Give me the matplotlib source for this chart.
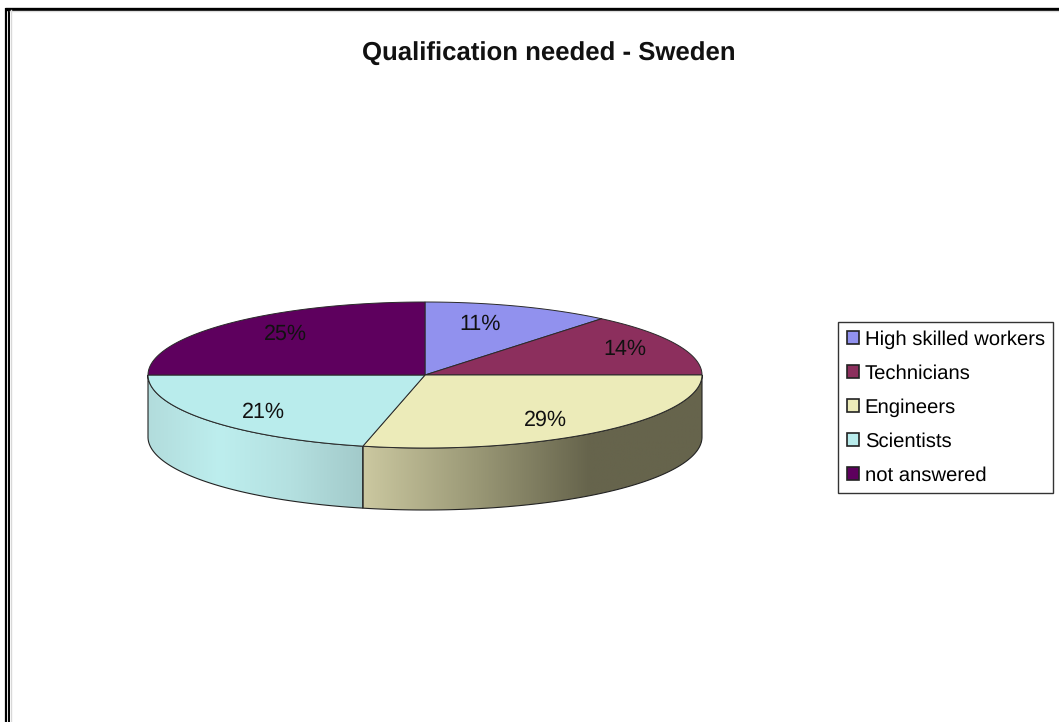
#!/usr/bin/env python3
# -*- coding: utf-8 -*-
"""Qualification needed - Sweden: Excel style 3D pie, drawn by hand in pixel coords."""

import numpy as np
import matplotlib
matplotlib.use("Agg")
import matplotlib.pyplot as plt
from matplotlib.colors import LinearSegmentedColormap
from matplotlib.patches import Patch, Polygon

plt.rcParams["font.family"] = ["Liberation Sans", "DejaVu Sans"]
plt.rcParams["text.hinting"] = "no_hinting"

# ====== data ======
categories = ["High skilled workers", "Technicians", "Engineers", "Scientists", "not answered"]
shares = [11, 14, 28.6, 21.4, 25]
top_colors = ["#9191ee", "#8c2f5d", "#ecebb9", "#b9ecec", "#5e005e"]
# wall shading, left to right, only slices that reach the front
wall_colors = {2: ["#cbc8a0", "#9a9876", "#66644c", "#66644c"],
               3: ["#b2dcdc", "#bdeeee", "#b4e0e0", "#a2caca"]}
# =================

# layout, pixels of the 1059x722 image
W, H = 1059, 722
CX, CY, RX, RY = 425, 375, 277, 73
DEPTH = 62
LABEL_XY = [(480, 324), (625, 349), (545, 420), (263, 412), (285, 334)]


def rim(a0, a1, n=120):
    """points on the top ellipse, angle in degrees clockwise from 12 o'clock"""
    t = np.radians(np.linspace(a0, a1, n))
    return np.column_stack((CX + RX * np.sin(t), CY - RY * np.cos(t)))


fig = plt.figure(figsize=(W / 100, H / 100), dpi=100)
ax = fig.add_axes([0, 0, 1, 1])
ax.set_xlim(0, W)
ax.set_ylim(H, 0)
ax.axis("off")

# double frame on top / left only
ax.plot([6, 6], [H, 8], color="black", lw=1.6, solid_capstyle="butt")
ax.plot([5, W], [8.5, 8.5], color="black", lw=2.4, solid_capstyle="butt")
ax.plot([9, 9], [H, 9], color="black", lw=1.4, solid_capstyle="butt")
ax.plot([10.5, 10.5], [H, 10], color="#d8d8d8", lw=1.0)
ax.plot([10, W], [10.8, 10.8], color="#dddddd", lw=1.0)

edges = np.concatenate(([0], np.cumsum(shares))) / sum(shares) * 360.0

# -------- side walls --------
for i in range(len(shares)):
    a0, a1 = max(edges[i], 90), min(edges[i + 1], 270)
    if a1 <= a0:
        continue
    top = rim(a0, a1)
    wall = np.vstack((top, (top + [0, DEPTH])[::-1]))
    poly = Polygon(wall, closed=True, facecolor="none", edgecolor="#222222", lw=0.8, zorder=3)
    ax.add_patch(poly)
    cmap = LinearSegmentedColormap.from_list("wall", wall_colors[i])
    grad = np.linspace(0, 1, 256).reshape(1, -1)
    img = ax.imshow(grad, cmap=cmap, aspect="auto", zorder=2,
                    extent=(wall[:, 0].min(), wall[:, 0].max(), wall[:, 1].max(), wall[:, 1].min()))
    img.set_clip_path(poly)
ax.set_xlim(0, W)
ax.set_ylim(H, 0)

# -------- top face --------
for i, color in enumerate(top_colors):
    pts = np.vstack(([CX, CY], rim(edges[i], edges[i + 1])))
    ax.add_patch(Polygon(pts, closed=True, facecolor=color, edgecolor="#2a2a2a", lw=0.7, zorder=4))

for share, (x, y) in zip(shares, LABEL_XY):
    ax.text(x, y, f"{share:.0f}%", fontsize=15.5, color="#111111", ha="center", va="center", zorder=5)

ax.text(549, 53, "Qualification needed - Sweden", fontsize=18.5, fontweight="bold",
        color="#111111", ha="center", va="center")

# -------- legend --------
handles = [Patch(facecolor=c, edgecolor="#222222", lw=1.2) for c in top_colors]
leg = ax.legend(handles, categories, loc="upper left",
                bbox_to_anchor=(838 / W, 1 - 322 / H), borderaxespad=0,
                fontsize=14.6, frameon=True, fancybox=False, framealpha=1,
                edgecolor="#333333", handlelength=0.6, handleheight=0.6,
                handletextpad=0.3, labelspacing=0.75, borderpad=0.42)
leg.get_frame().set_linewidth(1.0)

fig.savefig("out.png", dpi=100)
